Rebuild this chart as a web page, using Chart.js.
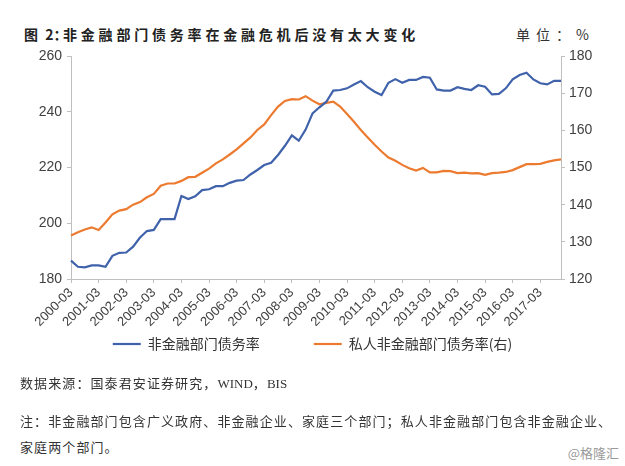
<!DOCTYPE html>
<html>
<head>
<meta charset="utf-8">
<script src="https://cdn.jsdelivr.net/npm/chart.js@4.4.1/dist/chart.umd.min.js"></script>
<style>
    body {
        margin: 0;
        width: 625px;
        height: 466px;
        background: #ffffff;
        position: relative;
        overflow: hidden;
        font-family: "Noto Sans CJK SC", "Liberation Sans", sans-serif;
        color: #222;
    }
    .abs { position: absolute; white-space: nowrap; }
    #title-head { left: 24px; top: 24px; font-size: 14px; font-weight: 700; word-spacing: 4px; }
    #title-text { left: 63px; top: 24px; font-size: 14px; font-weight: 700; letter-spacing: 3.8px; }
    #unit { left: 516px; top: 24px; font-size: 14px; letter-spacing: 6px; color: #333; }
    #chart-box { position: absolute; left: 0; top: 40px; width: 625px; height: 373px; }
    .note { font-size: 13px; letter-spacing: 1.1px; color: #333; left: 20px; }
    .latin { font-family: "Liberation Serif", serif; letter-spacing: 0; }
    #mark { right: 6px; top: 443px; font-size: 13px; color: #9a9a9a; }
</style>
</head>
<body>
<div class="abs" id="title-head">图 2：</div>
<div class="abs" id="title-text">非金融部门债务率在金融危机后没有太大变化</div>
<div class="abs" id="unit">单位：%</div>
<div id="chart-box"><canvas id="debt-chart"></canvas></div>
<div class="abs note" style="top:373px">数据来源：国泰君安证券研究，<span class="latin">WIND</span>，<span class="latin">BIS</span></div>
<div class="abs note" style="top:411px">注：非金融部门包含广义政府、非金融企业、家庭三个部门；私人非金融部门包含非金融企业、</div>
<div class="abs note" style="top:437px">家庭两个部门。</div>
<div class="abs" id="mark">@格隆汇</div>

<script>
// quarterly, 2000-03 .. 2017-12
const years = [2000, 2001, 2002, 2003, 2004, 2005, 2006, 2007, 2008,
    2009, 2010, 2011, 2012, 2013, 2014, 2015, 2016, 2017];
const quarterMonths = ['03', '06', '09', '12'];

// 非金融部门债务率 (left axis)
const nonFinDebt = [
    186.6, 184.4, 184.2, 184.9, 184.9, 184.4, 188.3, 189.4,
    189.5, 191.6, 194.9, 197.2, 197.6, 201.5, 201.5, 201.5,
    209.8, 208.7, 209.7, 211.9, 212.2, 213.3, 213.3, 214.5,
    215.3, 215.5, 217.5, 219.1, 220.9, 221.7, 224.5, 227.8,
    231.5, 229.6, 233.6, 239.4, 241.6, 243.6, 247.6, 247.8,
    248.4, 249.8, 251.0, 248.8, 247.2, 246.0, 250.4, 251.7,
    250.4, 251.4, 251.4, 252.5, 252.2, 248.0, 247.6, 247.6,
    248.8, 248.2, 247.8, 249.5, 249.0, 246.2, 246.4, 248.4,
    251.6, 253.2, 254.0, 251.6, 250.2, 249.8, 251.1, 251.1
];

// 私人非金融部门债务率 (right axis)
const privateDebt = [
    131.7, 132.6, 133.3, 133.9, 133.2, 135.2, 137.4, 138.4,
    138.8, 140.0, 140.7, 142.0, 142.9, 145.1, 145.7, 145.7,
    146.4, 147.4, 147.5, 148.6, 149.7, 151.1, 152.2, 153.5,
    154.9, 156.5, 158.1, 160.1, 161.6, 164.1, 166.4, 167.9,
    168.4, 168.3, 169.2, 168.0, 167.0, 167.4, 167.7, 166.4,
    164.4, 162.3, 160.1, 158.1, 156.1, 154.3, 152.7, 151.8,
    150.7, 149.8, 149.2, 149.9, 148.7, 148.7, 149.1, 149.0,
    148.5, 148.6, 148.4, 148.5, 148.0, 148.5, 148.6, 148.8,
    149.3, 150.1, 150.9, 150.9, 151.0, 151.5, 151.9, 152.2
];

const leftTicks = [180, 200, 220, 240, 260];
const rightTicks = [120, 130, 140, 150, 160, 170, 180];

const quarters = [];
years.forEach(y => {
    quarterMonths.forEach(m => quarters.push(`${y}-${m}`));
});

const axisGray = '#bfbfbf';
const tickText = '#404040';
const tickFont = { family: '"Liberation Sans", "Noto Sans CJK SC", sans-serif', size: 14 };

const legendPad = 54;
const legendItemY = 304; // centre of legend row, canvas px

// legend items sit wide apart, so the row is lifted back up under the axis labels
const legendLift = {
    id: 'legendLift',
    afterUpdate(chart) {
        const lg = chart.legend;
        if (!lg) return;
        const shift = lg.top + legendPad + 7 - legendItemY;
        lg.top -= shift;
        lg.bottom -= shift;
    }
};

const ctx = document.getElementById('debt-chart').getContext('2d');
new Chart(ctx, {
    type: 'line',
    data: {
        labels: quarters,
        datasets: [{
            label: '非金融部门债务率',
            data: nonFinDebt,
            yAxisID: 'yLeft',
            borderColor: '#3f62ab',
            backgroundColor: '#3f62ab',
            borderWidth: 2.2,
            pointRadius: 0,
            pointStyle: 'line',
            tension: 0
        }, {
            label: '私人非金融部门债务率(右)',
            data: privateDebt,
            yAxisID: 'yRight',
            borderColor: '#ec7b30',
            backgroundColor: '#ec7b30',
            borderWidth: 2.2,
            pointRadius: 0,
            pointStyle: 'line',
            tension: 0
        }]
    },
    plugins: [legendLift],
    options: {
        responsive: true,
        maintainAspectRatio: false,
        animation: false,
        layout: { padding: { top: 16, right: 0, bottom: 0, left: 0 } },
        plugins: {
            tooltip: { enabled: false },
            legend: {
                position: 'bottom',
                labels: {
                    usePointStyle: true,
                    pointStyleWidth: 28,
                    padding: legendPad,
                    color: '#333',
                    font: { family: '"Noto Sans CJK SC", sans-serif', size: 14 }
                }
            }
        },
        scales: {
            x: {
                type: 'category',
                offset: false,
                grid: { drawOnChartArea: false, color: axisGray, tickLength: 4 },
                border: { color: axisGray },
                ticks: {
                    autoSkip: false,
                    minRotation: 45,
                    maxRotation: 45,
                    padding: 2,
                    color: tickText,
                    font: { family: tickFont.family, size: 13 },
                    callback: function (val, i) {
                        return i % 4 === 0 ? this.getLabelForValue(val) : null;
                    }
                },
                afterFit: scale => { scale.height = 56; }
            },
            yLeft: {
                position: 'left',
                min: leftTicks[0],
                max: leftTicks[leftTicks.length - 1],
                grid: { drawOnChartArea: false, color: axisGray, tickLength: 4 },
                border: { color: axisGray },
                afterBuildTicks: scale => { scale.ticks = leftTicks.map(v => ({ value: v })); },
                ticks: { color: tickText, font: tickFont, padding: 5 },
                afterFit: scale => { scale.width = 71; }
            },
            yRight: {
                position: 'right',
                min: rightTicks[0],
                max: rightTicks[rightTicks.length - 1],
                grid: { drawOnChartArea: false, color: axisGray, tickLength: 4 },
                border: { color: axisGray },
                afterBuildTicks: scale => { scale.ticks = rightTicks.map(v => ({ value: v })); },
                ticks: { color: tickText, font: tickFont, padding: 4 },
                afterFit: scale => { scale.width = 64; }
            }
        }
    }
});
</script>
</body>
</html>
